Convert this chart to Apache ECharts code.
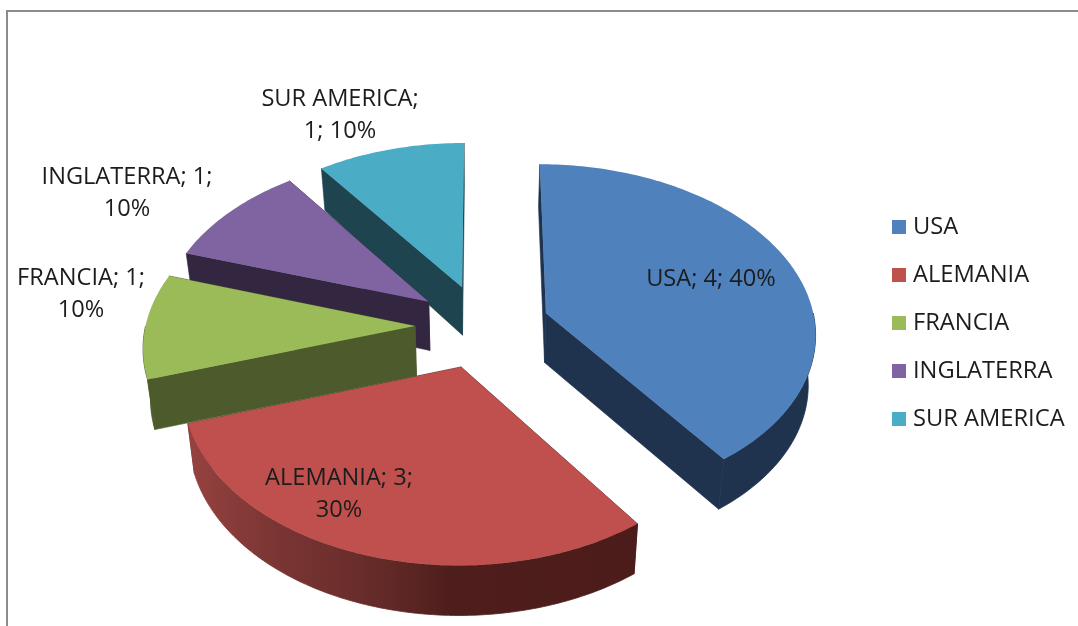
<!DOCTYPE html>
<html>
<head>
<meta charset="utf-8">
<style>html,body{margin:0;padding:0;background:#fff}#c{width:1078px;height:626px}</style>
<script src="https://cdn.jsdelivr.net/npm/echarts@6/dist/echarts.min.js"></script>
</head>
<body>
<div id="c"></div>
<script>
// ---- data ----
const categories = ['USA', 'ALEMANIA', 'FRANCIA', 'INGLATERRA', 'SUR AMERICA'];
const values = [4, 3, 1, 1, 1];

// ---- style ----
const topColors  = ['#4f81bd', '#c0504d', '#9bbb59', '#8064a2', '#4bacc6'];
const wallColors = ['#1f334f', '#4c1c1a', '#4d5a2b', '#332640', '#1e4450'];
const drawOrder  = [4, 5, 6, 3, 2];           // painter's order per category
const labelBreaks = [[], [2], [2], [2], [1]]; // after which ';' the label wraps
const labelCentres = [[711, 279], [339, 494], [81, 294], [127, 193], [340, 115]];

// ---- perspective projection of the tilted, exploded disc ----
const CX = 482.4, CY = 326, EXPLODE = 0.25;
const R = 269.5, A = 167.6, P = 0.108;
const DEPTH = 50, VX = 481, VK = 0.022;
const FONT = '"Open Sans", "Noto Sans", sans-serif';

const total = values.reduce((a, b) => a + b, 0);
function rad(d) { return d * Math.PI / 180; }

function project(u, v) {
  const s = 1 / (1 - P * v);
  return { x: CX + R * u * s, y: CY + A * v * s, s: s };
}
function rimPoint(deg, mid) {
  return project(
    Math.sin(rad(deg)) + EXPLODE * Math.sin(rad(mid)),
    -Math.cos(rad(deg)) - EXPLODE * Math.cos(rad(mid))
  );
}
function apexOf(mid) {
  return project(EXPLODE * Math.sin(rad(mid)), -EXPLODE * Math.cos(rad(mid)));
}
function lower(p) {
  return [p.x + (VX - p.x) * VK, p.y + DEPTH * Math.min(1, Math.pow(p.s, 1.6))];
}
function arc(from, to, mid) {
  const pts = [], n = Math.max(2, Math.ceil(Math.abs(to - from)));
  for (let i = 0; i <= n; i++) pts.push(rimPoint(from + (to - from) * i / n, mid));
  return pts;
}
function labelText(idx, pct) {
  const parts = [categories[idx] + ';', values[idx] + ';', pct + '%'];
  let out = parts[0];
  for (let i = 1; i < parts.length; i++) {
    out += (labelBreaks[idx].indexOf(i) >= 0 ? '\n' : ' ') + parts[i];
  }
  return out;
}

function makeRender(idx) {
  return function (params, api) {
    const val = api.value(0);
    const before = values.slice(0, idx).reduce((a, b) => a + b, 0);
    const start = before / total * 360, end = start + val / total * 360;
    const mid = (start + end) / 2;
    const apexPt = apexOf(mid);
    const top = arc(start, end, mid);
    const children = [];
    const wall = wallColors[idx];

    [top[0], top[top.length - 1]].forEach(function (p) {
      children.push({
        type: 'polygon',
        shape: { points: [[apexPt.x, apexPt.y], [p.x, p.y], lower(p), lower(apexPt)] },
        style: { fill: wall, stroke: wall, lineWidth: 0.6 }
      });
    });

    const rs = Math.max(start, 90), re = Math.min(end, 270);
    if (re > rs) {
      const rim = arc(rs, re, mid);
      const pts = rim.map(p => [p.x, p.y]).concat(rim.slice().reverse().map(lower));
      const fill = categories[idx] === 'ALEMANIA'
        ? new echarts.graphic.LinearGradient(0, 0, 1, 0, [
            { offset: 0, color: '#964240' },
            { offset: 0.2, color: '#7a3533' },
            { offset: 0.42, color: '#652b29' },
            { offset: 0.58, color: '#4f1e1c' },
            { offset: 1, color: '#4c1c1a' }
          ])
        : wall;
      children.push({ type: 'polygon', shape: { points: pts }, style: { fill: fill, stroke: fill, lineWidth: 0.8 } });
    }

    children.push({
      type: 'polygon',
      shape: { points: [[apexPt.x, apexPt.y]].concat(top.map(p => [p.x, p.y])) },
      style: { fill: topColors[idx] }
    });

    const pct = Math.round(val / total * 100);
    children.push({
      type: 'text',
      style: {
        text: labelText(idx, pct),
        x: labelCentres[idx][0], y: labelCentres[idx][1],
        align: 'center', verticalAlign: 'middle',
        font: '23.6px ' + FONT, lineHeight: 32, fill: '#1c1c1c'
      }
    });
    return { type: 'group', children: children };
  };
}

const chart = echarts.init(document.getElementById('c'), null, { renderer: 'canvas' });
chart.setOption({
  animation: false,
  backgroundColor: '#ffffff',
  graphic: [{
    type: 'rect', silent: true, z: 0,
    shape: { x: 7, y: 11, width: 1200, height: 800 },
    style: { fill: 'none', stroke: '#8c8c8c', lineWidth: 2 }
  }],
  legend: {
    orient: 'vertical', left: 892, top: 215, padding: 0,
    icon: 'rect', itemWidth: 14, itemHeight: 14, itemGap: 24,
    selectedMode: false,
    data: categories,
    textStyle: { fontFamily: FONT, fontSize: 23.7, color: '#1c1c1c', lineHeight: 24, height: 24, padding: [0, 0, 0, 2] }
  },
  series: categories.map(function (name, i) {
    return {
      type: 'custom',
      name: name,
      coordinateSystem: 'none',
      z: drawOrder[i],
      silent: true,
      itemStyle: { color: topColors[i] },
      renderItem: makeRender(i),
      data: [[values[i]]]
    };
  })
});
</script>
</body>
</html>
